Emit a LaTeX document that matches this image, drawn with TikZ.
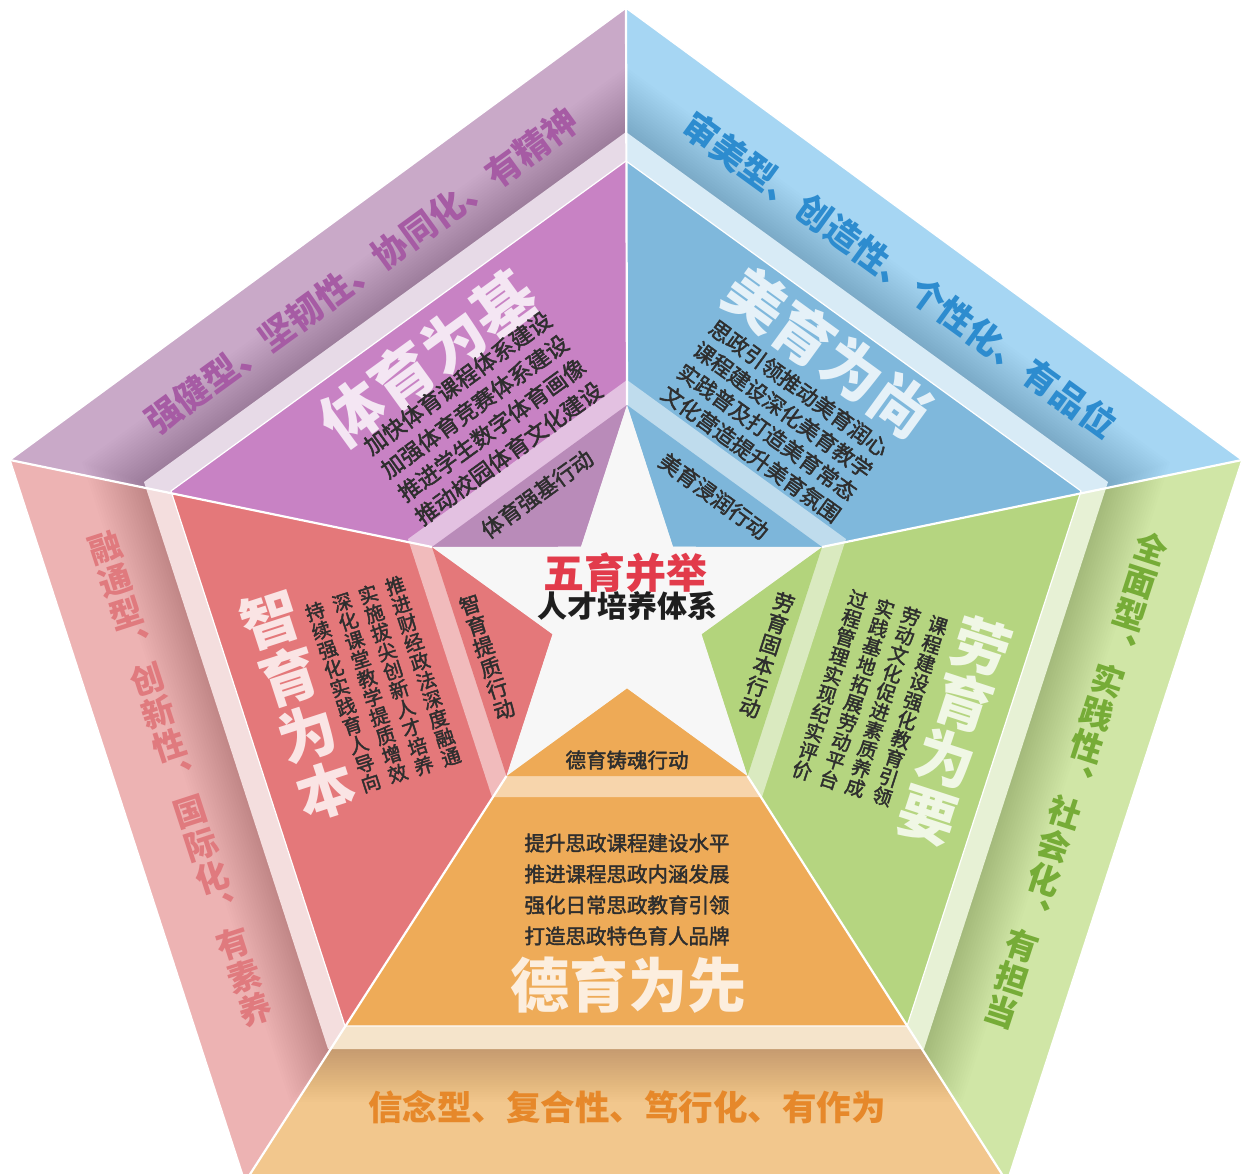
\documentclass[tikz,border=0pt]{standalone}
\usepackage{fontspec}
\setmainfont{Noto Sans CJK SC}
\newfontfamily\bodyf{Noto Sans CJK SC}[FakeBold=2]
\usetikzlibrary{calc}
% colours
\definecolor{puO}{HTML}{C9A9C8}\definecolor{puS}{HTML}{E7DAE7}\definecolor{puI}{HTML}{C882C4}\definecolor{puA}{HTML}{B98BB9}\definecolor{puTx}{HTML}{A65BA4}
\definecolor{blO}{HTML}{A6D6F3}\definecolor{blS}{HTML}{D8EBF6}\definecolor{blI}{HTML}{7FB8DC}\definecolor{blA}{HTML}{7DB6DA}\definecolor{blTx}{HTML}{2D8CCF}
\definecolor{reO}{HTML}{EDB3B3}\definecolor{reS}{HTML}{F4DEDE}\definecolor{reI}{HTML}{E4787A}\definecolor{reA}{HTML}{E4787A}\definecolor{reTx}{HTML}{E07A7E}
\definecolor{grO}{HTML}{D0E6A6}\definecolor{grS}{HTML}{E7F1D5}\definecolor{grI}{HTML}{B5D580}\definecolor{grA}{HTML}{B3D47C}\definecolor{grTx}{HTML}{76AC37}
\definecolor{orO}{HTML}{F2C78D}\definecolor{orS}{HTML}{F5E4CB}\definecolor{orI}{HTML}{EEAB58}\definecolor{orA}{HTML}{EEAA56}\definecolor{orTx}{HTML}{E6882A}
\definecolor{bodyc}{HTML}{2E2E2E}\definecolor{starc}{HTML}{F7F7F7}\definecolor{starRed}{HTML}{E23B4B}
\colorlet{puT}{white!80!puI}\colorlet{blT}{white!80!blI}\colorlet{reT}{white!80!reI}\colorlet{grT}{white!80!grI}\colorlet{orT}{white!80!orI}
\newcommand\fs[2]{\fontsize{#1}{#2}\selectfont\bfseries}
\newcommand\bs[2]{\fontsize{#1}{#2}\bodyf}
\newcommand\sectorfill[5]{%
  \begin{scope}
    \clip #1;
    \fill[#2] (P1)--(P2)--(P3)--(P4)--(P5)--cycle;
    \foreach \r in {509,512,...,572}
      \fill[black,opacity=0.0075,shift={(626,639)}] (270:\r)--(342:\r)--(54:\r)--(126:\r)--(198:\r)--cycle;
    \fill[#3] (M1)--(M2)--(M3)--(M4)--(M5)--cycle;
    \fill[#4] (N1)--(N2)--(N3)--(N4)--(N5)--cycle;
    \fill[#4!50!white] (S1)--(S2)--(S3)--(S4)--(S5)--cycle;
    \fill[#5] (T1)--(T2)--(T3)--(T4)--(T5)--cycle;
  \end{scope}}
\begin{document}
\begin{tikzpicture}[x=1pt,y=-1pt,
  txt/.style={inner sep=0pt, text=bodyc},
  vtxt/.style={inner sep=0pt, text=bodyc, align=center}]
\useasboundingbox (0,0) rectangle (1244,1174);
\fill[white] (0,0) rectangle (1244,1174);
% outer pentagon
\coordinate (P1) at (626,8);   \coordinate (P2) at (1242,460); \coordinate (P3) at (1007,1182);
\coordinate (P4) at (245,1182); \coordinate (P5) at (10,460);
% middle strip pentagons
\coordinate (M1) at (626,132); \coordinate (M2) at (1108,482); \coordinate (M3) at (924,1049);
\coordinate (M4) at (328,1049); \coordinate (M5) at (144,482);
\coordinate (N1) at (626,161); \coordinate (N2) at (1081,491); \coordinate (N3) at (907,1026);
\coordinate (N4) at (345,1026); \coordinate (N5) at (171,491);
% inner strip pentagon
\coordinate (S1) at (627,380); \coordinate (S2) at (846,539); \coordinate (S3) at (762,797);
\coordinate (S4) at (492,797); \coordinate (S5) at (408,539);
% star tips
\coordinate (T1) at (627,405); \coordinate (T2) at (822,547); \coordinate (T3) at (747.5,776);
\coordinate (T4) at (506.5,776); \coordinate (T5) at (432,547);
% star inner vertices
\coordinate (I12) at (673,546.7); \coordinate (I23) at (701.5,634.2); \coordinate (I34) at (627,688.3);
\coordinate (I45) at (552.5,634.2); \coordinate (I51) at (581,546.7);
% sectors
\sectorfill{(P1)--(T1)--(I51)--(T5)--(P5)--cycle}{puO}{puS}{puI}{puA}
\sectorfill{(P1)--(P2)--(T2)--(I12)--(T1)--cycle}{blO}{blS}{blI}{blA}
\sectorfill{(P2)--(P3)--(T3)--(I23)--(T2)--cycle}{grO}{grS}{grI}{grA}
\sectorfill{(P3)--(P4)--(T4)--(I34)--(T3)--cycle}{orO}{orS}{orI}{orA}
\sectorfill{(P4)--(P5)--(T5)--(I45)--(T4)--cycle}{reO}{reS}{reI}{reA}
\draw[white,line width=1.2pt] (N1)--(N2)--(N3)--(N4)--(N5)--cycle;
% star
\fill[starc] (T1)--(I12)--(T2)--(I23)--(T3)--(I34)--(T4)--(I45)--(T5)--(I51)--cycle;
% sector boundaries
\foreach \a/\b in {P1/T1,P2/T2,P3/T3,P4/T4,P5/T5}
  \draw[white,line width=2.2pt] (\a)--(\b);
\draw[white,line width=1.5pt] (P1)--(P2)--(P3)--(P4)--(P5)--cycle;
% ---------- purple (top left)
\node[txt,rotate=36,text=puTx,font=\fs{35}{35}] (puOut) at (362,271) {强健型、坚韧性、协同化、有精神};
\node[txt,rotate=36,text=puT,font=\fs{62}{62}] (puTitle) at (428,358) {体育为基};
\node[txt,rotate=36,align=center,font=\bs{22.5}{29}] (puBody) at (483,418) {加快体育课程体系建设\\加强体育竞赛体系建设\\推进学生数字体育画像\\推动校园体育文化建设};
\node[txt,rotate=36,font=\bs{22}{22}] (puAct) at (537,494) {体育强基行动};
% ---------- blue (top right)
\node[txt,rotate=-36,text=blTx,font=\fs{35}{35}] (blOut) at (900,275) {审美型、创造性、个性化、有品位};
\node[txt,rotate=-36,text=blT,font=\fs{60}{60}] (blTitle) at (829,352) {美育为尚};
\node[txt,rotate=-36,align=center,font=\bs{21.5}{27}] (blBody) at (775,421) {思政引领推动美育润心\\课程建设深化美育教学\\实践普及打造美育常态\\文化营造提升美育氛围};
\node[txt,rotate=-36,font=\bs{21.5}{22}] (blAct) at (714,496) {美育浸润行动};
% ---------- red (left)
\node[vtxt,rotate=18,text=reTx,font=\fs{33}{34.7}] (reOut) at (180,779) {融\\通\\型\\︑\\创\\新\\性\\︑\\国\\际\\化\\︑\\有\\素\\养};
\node[vtxt,rotate=18,text=reT,font=\fs{58}{60}] (reTitle) at (298,705) {智\\育\\为\\本};
\node[vtxt,rotate=18,font=\bs{19.5}{20}] (reB1) at (423,671) {推\\进\\财\\经\\政\\法\\深\\度\\融\\通};
\node[vtxt,rotate=18,font=\bs{19.5}{20}] (reB2) at (396,680) {实\\施\\拔\\尖\\创\\新\\人\\才\\培\\养};
\node[vtxt,rotate=18,font=\bs{19.5}{20}] (reB3) at (370,688) {深\\化\\课\\堂\\教\\学\\提\\质\\增\\效};
\node[vtxt,rotate=18,font=\bs{19.5}{20}] (reB4) at (343,697) {持\\续\\强\\化\\实\\践\\育\\人\\导\\向};
\node[vtxt,rotate=18,font=\bs{21}{22}] (reAct) at (487,657) {智\\育\\提\\质\\行\\动};
% ---------- green (right)
\node[vtxt,rotate=-18,text=grTx,font=\fs{33}{34.7}] (grOut) at (1076,780) {全\\面\\型\\︑\\实\\践\\性\\︑\\社\\会\\化\\︑\\有\\担\\当};
\node[vtxt,rotate=-18,text=grT,font=\fs{58}{59}] (grTitle) at (955,731) {劳\\育\\为\\要};
\node[vtxt,rotate=-18,font=\bs{19.5}{20}] (grB1) at (910,711) {课\\程\\建\\设\\强\\化\\教\\育\\引\\领};
\node[vtxt,rotate=-18,font=\bs{19.5}{20}] (grB2) at (883,702) {劳\\动\\文\\化\\促\\进\\素\\质\\养\\成};
\node[vtxt,rotate=-18,font=\bs{19.5}{20}] (grB3) at (857,694) {实\\践\\基\\地\\拓\\展\\劳\\动\\平\\台};
\node[vtxt,rotate=-18,font=\bs{19.5}{20}] (grB4) at (830,685) {过\\程\\管\\理\\实\\现\\纪\\实\\评\\价};
\node[vtxt,rotate=-18,font=\bs{21}{22}] (grAct) at (767,655) {劳\\育\\固\\本\\行\\动};
% ---------- orange (bottom)
\node[txt,text=orTx,font=\fs{34.5}{35}] (orOut) at (627,1107) {信念型、复合性、笃行化、有作为};
\node[txt,text=orT,font=\fs{59}{59}] (orTitle) at (628,985) {德育为先};
\node[txt,align=center,font=\bs{20.5}{31}] (orBody) at (627,889.5) {提升思政课程建设水平\\推进课程思政内涵发展\\强化日常思政教育引领\\打造思政特色育人品牌};
\node[txt,font=\bs{20.5}{21}] (orAct) at (627,760) {德育铸魂行动};
% ---------- centre
\node[txt,text=starRed,font=\fs{41}{41}] (c1) at (625,573) {五育并举};
\node[txt,text=black!88,font=\fs{30}{30}] (c2) at (627,606) {人才培养体系};
\end{tikzpicture}
\end{document}
